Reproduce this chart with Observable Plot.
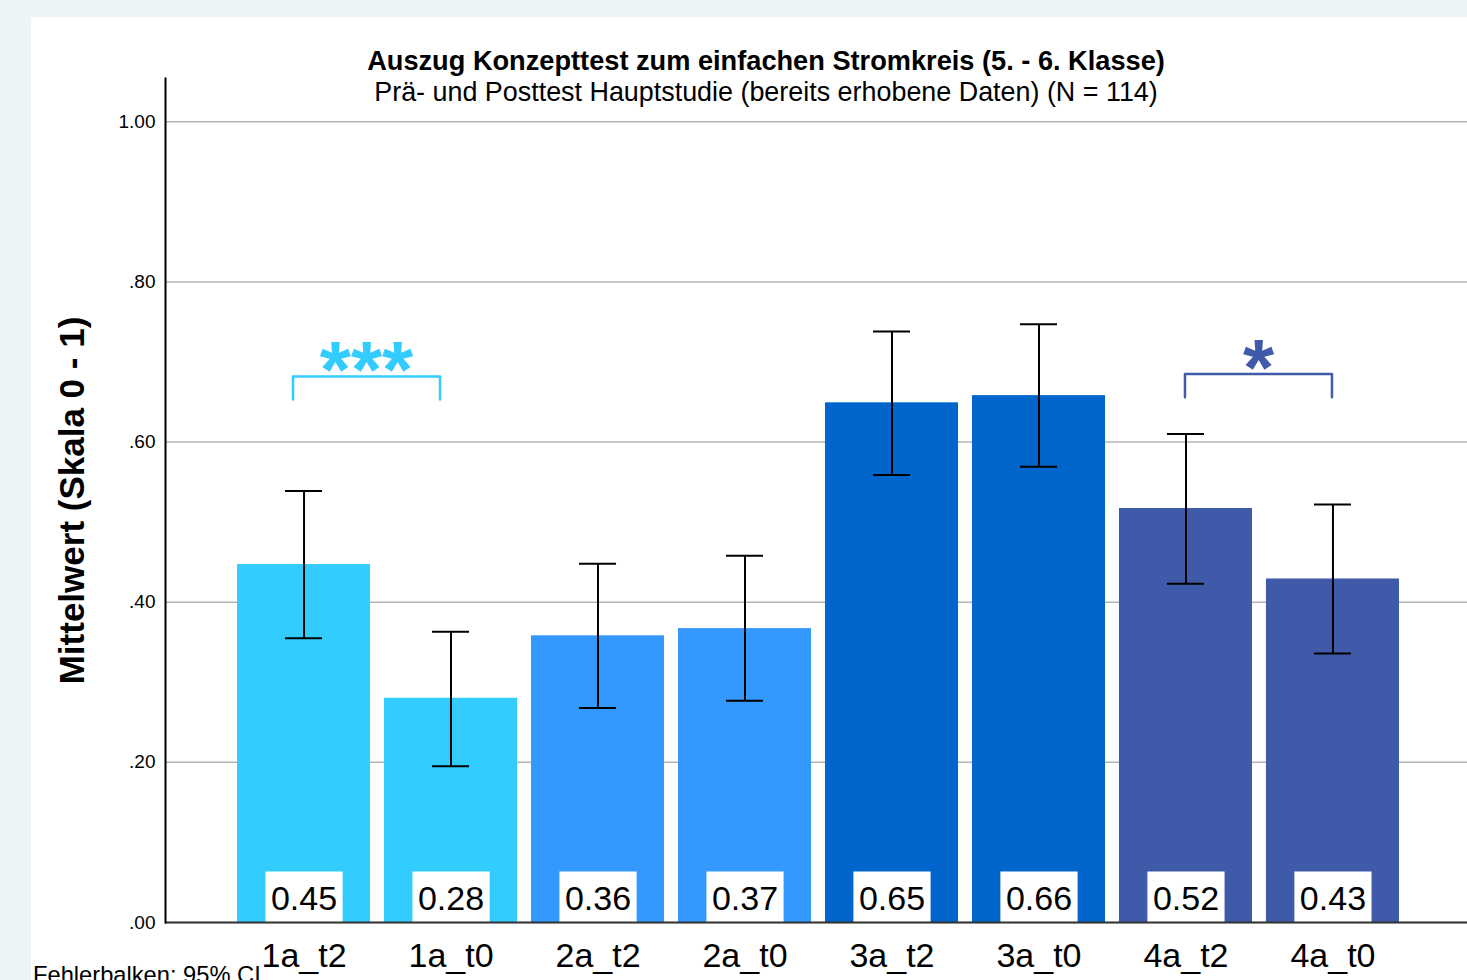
<!DOCTYPE html>
<html>
<head>
<meta charset="utf-8">
<script src="https://cdn.jsdelivr.net/npm/d3@7"></script>
<script src="https://cdn.jsdelivr.net/npm/@observablehq/plot@0.6"></script>
<style>
  html, body { margin: 0; padding: 0; }
  body { width: 1467px; height: 980px; overflow: hidden; position: relative; background: #ecf4f7;
         font-family: "Liberation Sans", Arial, sans-serif; }
  #panel { position: absolute; left: 31px; top: 17px; width: 1436px; height: 963px; background: #fff; }
  #chart { position: absolute; left: 0; top: 0; }
  .ttl { position: absolute; left: 0; width: 1532px; text-align: center; color: #000; white-space: nowrap; }
  #title { top: 47px; font-size: 27.2px; line-height: 27px; font-weight: bold; }
  #subtitle { top: 79px; font-size: 26.9px; line-height: 27px; }
  #foot { position: absolute; left: 33px; top: 964px; font-size: 23.7px; line-height: 23px; color: #000; white-space: nowrap; }
</style>
</head>
<body>
<div id="panel"></div>
<div id="chart"></div>
<div class="ttl" id="title">Auszug Konzepttest zum einfachen Stromkreis (5. - 6. Klasse)</div>
<div class="ttl" id="subtitle">Prä- und Posttest Hauptstudie (bereits erhobene Daten) (N = 114)</div>
<div id="foot">Fehlerbalken: 95% CI</div>
<script>
// ---- data ----
const categories = ["1a_t2", "1a_t0", "2a_t2", "2a_t0", "3a_t2", "3a_t0", "4a_t2", "4a_t0"];
const groups     = ["1a", "1a", "2a", "2a", "3a", "3a", "4a", "4a"];
const means      = [0.447, 0.280, 0.358, 0.367, 0.649, 0.658, 0.517, 0.429];
const ciLow      = [0.355, 0.195, 0.268, 0.277, 0.559, 0.569, 0.423, 0.336];
const ciHigh     = [0.539, 0.363, 0.448, 0.458, 0.738, 0.747, 0.610, 0.522];
const groupNames  = ["1a", "2a", "3a", "4a"];
const groupColors = ["#33ccff", "#3399ff", "#0066cc", "#3f5aa9"];
const yTicks      = [0, 0.2, 0.4, 0.6, 0.8, 1.0];
const yTickLabels = [".00", ".20", ".40", ".60", ".80", "1.00"];
const yLabel = "Mittelwert (Skala 0 - 1)";
// significance brackets
const sigFrom   = ["1a_t2", "4a_t2"];
const sigTo     = ["1a_t0", "4a_t0"];
const sigStars  = ["***", "*"];
const sigGroup  = ["1a", "4a"];
const sigTop    = [0.682, 0.685];
const sigLegEnd = [0.653, 0.656];

const data = categories.map((c, i) => ({cat: c, group: groups[i], mean: means[i], lo: ciLow[i], hi: ciHigh[i]}));
const colorOf = g => groupColors[groupNames.indexOf(g)];
const FONT = "'Liberation Sans', Arial, sans-serif";

const bracketShift = [-11, -1];
const bracketMarks = sigFrom.flatMap((f, i) => {
  const pts = [
    {x: f, y: sigLegEnd[i]}, {x: f, y: sigTop[i]},
    {x: sigTo[i], y: sigTop[i]}, {x: sigTo[i], y: sigLegEnd[i]}
  ];
  return [
    Plot.line(pts, {x: "x", y: "y", stroke: colorOf(sigGroup[i]), strokeWidth: 2.5,
      strokeLinejoin: "round", dx: bracketShift[i], curve: "linear"}),
    Plot.text([sigStars[i]], {x: () => f, y: sigTop[i], text: d => d, fill: colorOf(sigGroup[i]),
      fontSize: 80, fontWeight: "bold", lineAnchor: "bottom", dx: 73.5 + bracketShift[i], dy: 21,
      fontFamily: FONT})
  ];
});

const plot = Plot.plot({
  width: 1467,
  height: 980,
  marginTop: 78,
  marginBottom: 58,
  marginLeft: 165,
  marginRight: 0,
  style: {fontFamily: FONT, background: "transparent", color: "#000", overflow: "visible"},
  x: {domain: categories, range: [165, 1471], paddingInner: 0.095, paddingOuter: 0.49, round: false, label: null},
  y: {domain: [0, 1.054], label: null},
  marks: [
    Plot.gridY(yTicks, {stroke: "#b4b4b4", strokeOpacity: 1, strokeWidth: 1.5}),
    Plot.barY(data, {x: "cat", y: "mean", fill: d => colorOf(d.group)}),
    Plot.text(data, {x: "cat", y: 0, text: d => d.mean.toFixed(2), fontSize: 34, fill: "#000",
      lineAnchor: "bottom", dy: -13, className: "vlabel", fontFamily: FONT}),
    Plot.ruleX(data, {x: "cat", y1: "lo", y2: "hi", stroke: "#000", strokeWidth: 2}),
    Plot.tickY(data, {x: "cat", y: "lo", stroke: "#000", strokeWidth: 2, insetLeft: 48, insetRight: 48}),
    Plot.tickY(data, {x: "cat", y: "hi", stroke: "#000", strokeWidth: 2, insetLeft: 48, insetRight: 48}),
    ...bracketMarks,
    Plot.ruleY([0], {stroke: "#333", strokeWidth: 2}),
    Plot.frame({anchor: "left", stroke: "#000", strokeWidth: 2}),
    Plot.axisY(yTicks, {tickFormat: (d) => yTickLabels[yTicks.indexOf(d)], tickSize: 0, tickPadding: 10,
      fontSize: 19, label: null}),
    Plot.axisX({tickSize: 0, tickPadding: 20, fontSize: 34, label: null}),
    Plot.text([yLabel], {frameAnchor: "left", textAnchor: "middle", rotate: -90, dx: -93, text: d => d, fontSize: 35,
      fontWeight: "bold", fill: "#000", fontFamily: FONT})
  ]
});

document.getElementById("chart").appendChild(plot);

// white boxes behind the value labels
const y0 = plot.scale("y").apply(0);
d3.select(plot).selectAll("g.vlabel text").each(function() {
  const b = this.getBBox();
  const m = this.getCTM();
  d3.select(this.parentNode).insert("rect", () => this)
    .attr("x", b.x - 5.5)
    .attr("y", b.y - 7)
    .attr("width", b.width + 11)
    .attr("height", y0 - (b.y - 7) - (m ? m.f : 0))
    .attr("transform", this.getAttribute("transform"))
    .attr("fill", "#fff");
});
</script>
</body>
</html>
